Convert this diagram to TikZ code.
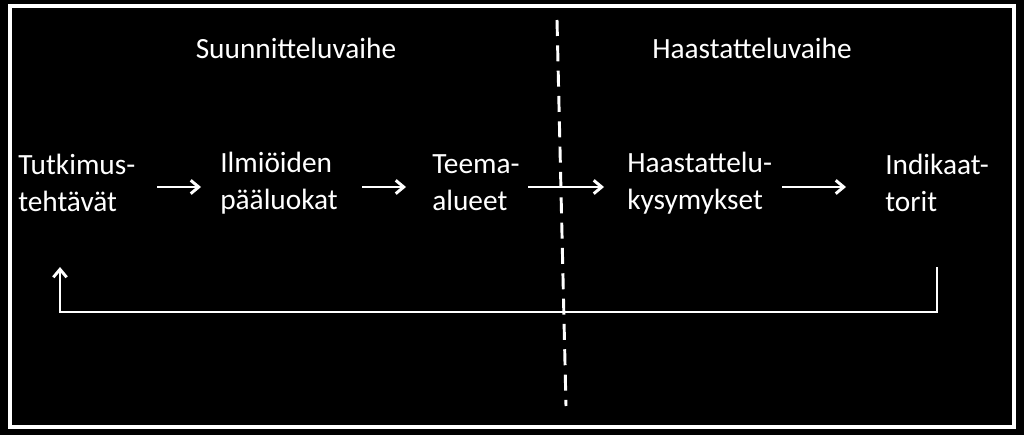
\documentclass[tikz,border=0pt]{standalone}
\usepackage{fontspec}
\setmainfont{Carlito}
\usetikzlibrary{arrows.meta}
\begin{document}
\begin{tikzpicture}[x=0.75pt,y=-0.75pt,
  txt/.style={text=white,font=\fontsize{22}{28}\selectfont,inner sep=0pt,align=left,anchor=west},
  arr/.style={white,line width=2.2pt,-{Straight Barb[length=6pt,width=10pt]}}]
\fill[black] (0,0) rectangle (1024,435);
\useasboundingbox (0,0) rectangle (1024,435);
\draw[white,line width=3pt] (10,6) rectangle (1014,427);
\draw[white,line width=2.2pt,dash pattern=on 12pt off 7pt] (557,20) -- (566,406);
\node[txt,anchor=center] (s) at (296,48) {Suunnitteluvaihe};
\node[txt,anchor=center] (h) at (752,48) {Haastatteluvaihe};
\node[txt] (a) at (18,183) {Tutkimus-\\tehtävät};
\node[txt] (b) at (220,183) {Ilmiöiden\\pääluokat};
\node[txt] (c) at (432,183) {Teema-\\alueet};
\node[txt] (d) at (627,183) {Haastattelu-\\kysymykset};
\node[txt] (e) at (885,183) {Indikaat-\\torit};
\coordinate (a1) at (157,187); \coordinate (a2) at (201,187);
\coordinate (b1) at (362,187); \coordinate (b2) at (406,187);
\coordinate (c1) at (528,187); \coordinate (c2) at (604,187);
\coordinate (d1) at (782,187); \coordinate (d2) at (846,187);
\draw[arr] (a1) -- (a2);
\draw[arr] (b1) -- (b2);
\draw[arr] (c1) -- (c2);
\draw[arr] (d1) -- (d2);
\coordinate (f1) at (937,267); \coordinate (f2) at (60,267);
\draw[arr] (f1) -- (937,312) -- (60,312) -- (f2);
\end{tikzpicture}
\end{document}
